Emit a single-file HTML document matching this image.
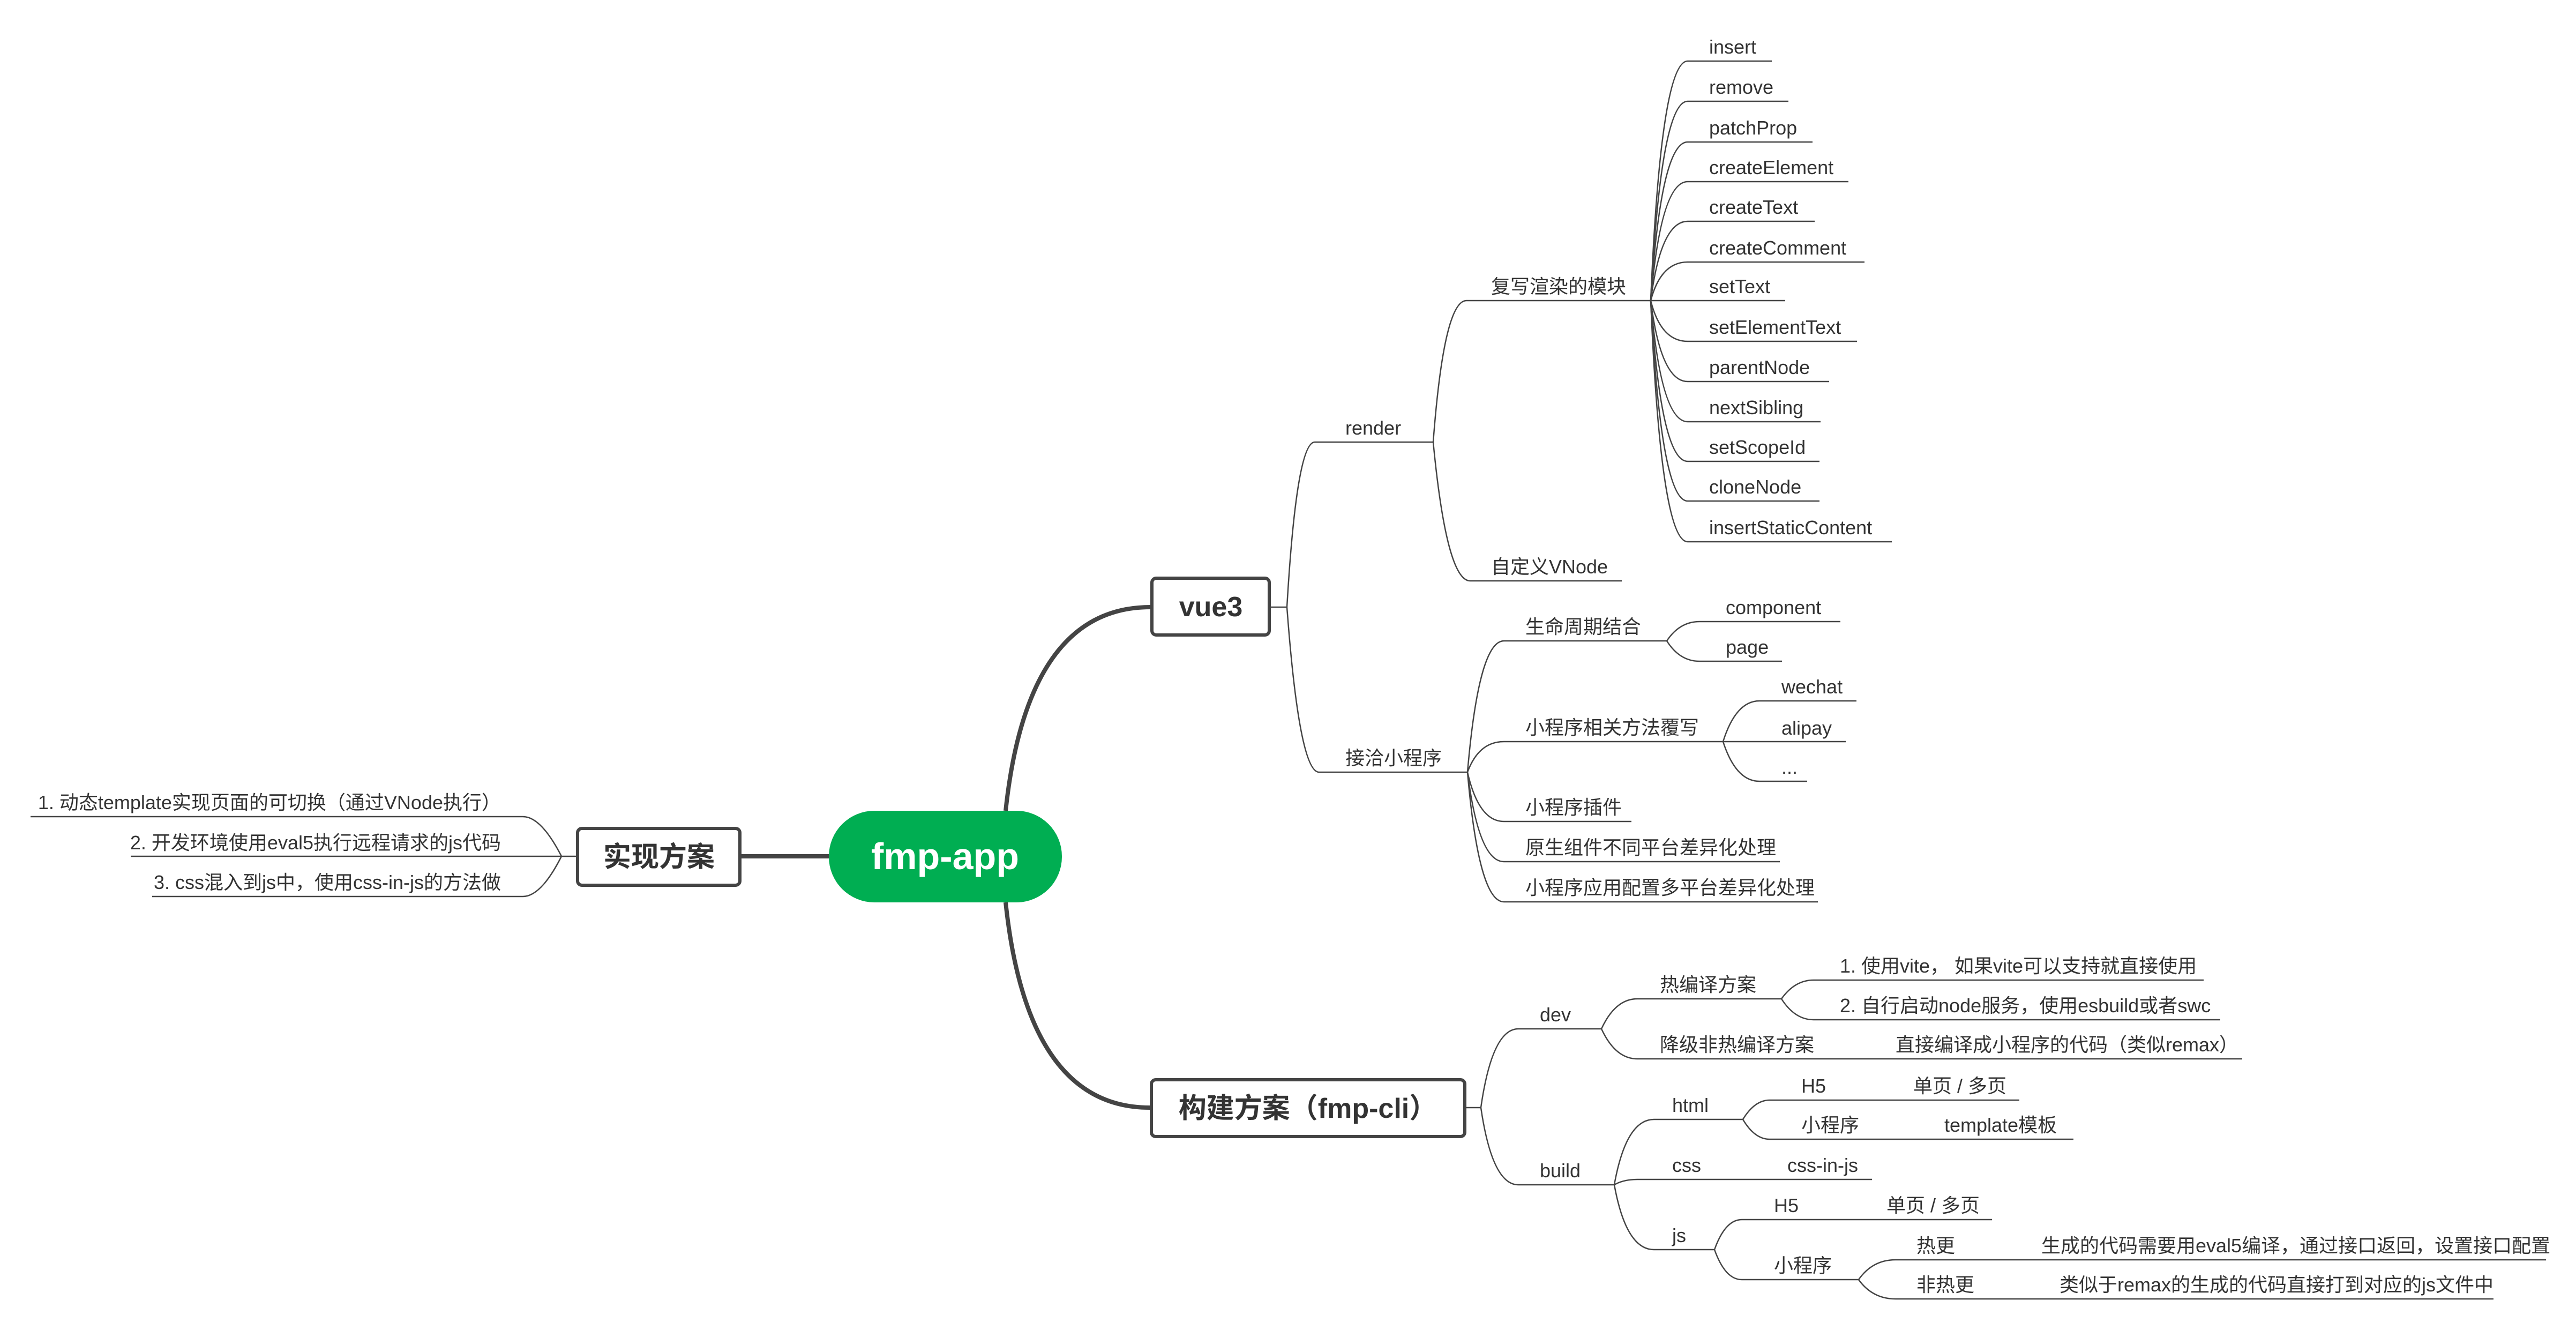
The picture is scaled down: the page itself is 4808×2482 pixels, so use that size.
<!DOCTYPE html>
<html><head><meta charset="utf-8"><style>
html,body{margin:0;padding:0;background:#fff;}
svg{display:block}
text{font-family:"Liberation Sans","Noto Sans CJK SC",sans-serif;fill:#333;font-size:36px}
.b{font-weight:bold;font-size:52px;fill:#333}
</style></head><body>
<svg width="4808" height="2482" viewBox="0 0 4808 2482" xmlns="http://www.w3.org/2000/svg">
<rect width="4808" height="2482" fill="#fff"/>
<!-- main thick connectors -->
<g fill="none" stroke="#444" stroke-width="8">
<path d="M1877 1513 C1905 1250 2000 1133 2147 1133"/>
<path d="M1877 1684 C1905 1950 2000 2067 2146 2067"/>
<path d="M1384 1598 L1547 1598"/>
</g>
<!-- thin connectors -->
<g fill="none" stroke="#444" stroke-width="2.5">
<!-- left -->
<path d="M1075 1598 L1048 1598"/>
<path d="M1048 1598 Q1010 1524 976 1524 L57 1524"/>
<path d="M1048 1598 L244 1598"/>
<path d="M1048 1598 Q1010 1673 976 1673 L284 1673"/>
<!-- vue3 -->
<path d="M2372 1133 L2402 1133"/>
<path d="M2402 1133 Q2420 825 2454 825 L2675 825"/>
<path d="M2402 1133 Q2425 1441 2462 1441 L2739 1441"/>
<path d="M2675 825 Q2695 561 2737 561 L3081 561"/>
<path d="M2675 825 Q2700 1084 2744 1084 L3027 1084"/>
<path d="M3081 561 Q3100 114 3150 114 L3307 114"/>
<path d="M3081 561 Q3100 189 3150 189 L3338 189"/>
<path d="M3081 561 Q3100 265 3150 265 L3383 265"/>
<path d="M3081 561 Q3100 339 3150 339 L3450 339"/>
<path d="M3081 561 Q3100 413 3150 413 L3387 413"/>
<path d="M3081 561 Q3100 489 3150 489 L3480 489"/>
<path d="M3081 561 L3332 561"/>
<path d="M3081 561 Q3100 637 3150 637 L3466 637"/>
<path d="M3081 561 Q3100 712 3150 712 L3414 712"/>
<path d="M3081 561 Q3100 787 3150 787 L3398 787"/>
<path d="M3081 561 Q3100 861 3150 861 L3396 861"/>
<path d="M3081 561 Q3100 935 3150 935 L3396 935"/>
<path d="M3081 561 Q3100 1011 3150 1011 L3531 1011"/>
<path d="M2739 1441 Q2760 1196 2807 1196 L3111 1196"/>
<path d="M2739 1441 Q2760 1384 2807 1384 L3216 1384"/>
<path d="M2739 1441 Q2760 1533 2807 1533 L3045 1533"/>
<path d="M2739 1441 Q2760 1608 2807 1608 L3322 1608"/>
<path d="M2739 1441 Q2760 1683 2807 1683 L3393 1683"/>
<path d="M3111 1196 Q3135 1160 3172 1160 L3435 1160"/>
<path d="M3111 1196 Q3135 1234 3172 1234 L3326 1234"/>
<path d="M3216 1384 Q3240 1308 3284 1308 L3465 1308"/>
<path d="M3216 1384 L3445 1384"/>
<path d="M3216 1384 Q3240 1458 3284 1458 L3373 1458"/>
<!-- build -->
<path d="M2737 2067 L2764 2067"/>
<path d="M2764 2067 Q2785 1920 2834 1920 L2989 1920"/>
<path d="M2764 2067 Q2785 2211 2834 2211 L3013 2211"/>
<path d="M2989 1920 Q3015 1864 3056 1864 L3325 1864"/>
<path d="M2989 1920 Q3015 1976 3056 1976 L4185 1976"/>
<path d="M3325 1864 Q3350 1829 3385 1829 L4113 1829"/>
<path d="M3325 1864 Q3350 1903 3385 1903 L4144 1903"/>
<path d="M3013 2211 Q3035 2089 3087 2089 L3253 2089"/>
<path d="M3013 2211 Q3030 2201 3056 2201 L3494 2201"/>
<path d="M3013 2211 Q3035 2332 3087 2332 L3200 2332"/>
<path d="M3253 2089 Q3275 2053 3303 2053 L3769 2053"/>
<path d="M3253 2089 Q3275 2126 3303 2126 L3870 2126"/>
<path d="M3200 2332 Q3220 2276 3251 2276 L3718 2276"/>
<path d="M3200 2332 Q3220 2388 3251 2388 L3469 2388"/>
<path d="M3469 2388 Q3495 2351 3538 2351 L4752 2351"/>
<path d="M3469 2388 Q3495 2424 3538 2424 L4654 2424"/>
</g>
<!-- boxes -->
<rect x="1547" y="1513" width="435" height="171" rx="85" fill="#00AE52"/>
<text x="1764" y="1622" text-anchor="middle" style="font-weight:bold;font-size:70px;fill:#fff">fmp-app</text>
<rect x="2150" y="1079" width="219" height="106" rx="8" fill="#fff" stroke="#444" stroke-width="6"/>
<text class="b" x="2260" y="1150" text-anchor="middle">vue3</text>
<rect x="2149" y="2015" width="585" height="106" rx="8" fill="#fff" stroke="#444" stroke-width="6"/>
<text class="b" x="2441" y="2086" text-anchor="middle">构建方案（fmp-cli）</text>
<rect x="1078" y="1546" width="303" height="106" rx="8" fill="#fff" stroke="#444" stroke-width="6"/>
<text class="b" x="1230" y="1617" text-anchor="middle">实现方案</text>
<!-- left labels -->
<text x="935" y="1510" text-anchor="end">1. 动态template实现页面的可切换（通过VNode执行）</text>
<text x="935" y="1585" text-anchor="end">2. 开发环境使用eval5执行远程请求的js代码</text>
<text x="935" y="1659" text-anchor="end">3. css混入到js中，使用css-in-js的方法做</text>
<!-- vue3 labels -->
<text x="2511" y="811">render</text>
<text x="2783" y="547">复写渲染的模块</text>
<text x="2783" y="1070">自定义VNode</text>
<text x="3190" y="100">insert</text>
<text x="3190" y="175">remove</text>
<text x="3190" y="251">patchProp</text>
<text x="3190" y="325">createElement</text>
<text x="3190" y="399">createText</text>
<text x="3190" y="475">createComment</text>
<text x="3190" y="547">setText</text>
<text x="3190" y="623">setElementText</text>
<text x="3190" y="698">parentNode</text>
<text x="3190" y="773">nextSibling</text>
<text x="3190" y="847">setScopeId</text>
<text x="3190" y="921">cloneNode</text>
<text x="3190" y="997">insertStaticContent</text>
<text x="2511" y="1427">接洽小程序</text>
<text x="2847" y="1182">生命周期结合</text>
<text x="2847" y="1370">小程序相关方法覆写</text>
<text x="2847" y="1519">小程序插件</text>
<text x="2847" y="1594">原生组件不同平台差异化处理</text>
<text x="2847" y="1669">小程序应用配置多平台差异化处理</text>
<text x="3221" y="1146">component</text>
<text x="3221" y="1220">page</text>
<text x="3325" y="1294">wechat</text>
<text x="3325" y="1371">alipay</text>
<text x="3325" y="1444">...</text>
<!-- build labels -->
<text x="2874" y="1906">dev</text>
<text x="2874" y="2197">build</text>
<text x="3098" y="1850">热编译方案</text>
<text x="3098" y="1962">降级非热编译方案</text>
<text x="3538" y="1962">直接编译成小程序的代码（类似remax）</text>
<text x="3434" y="1815">1. 使用vite， 如果vite可以支持就直接使用</text>
<text x="3434" y="1889">2. 自行启动node服务，使用esbuild或者swc</text>
<text x="3121" y="2075">html</text>
<text x="3121" y="2187">css</text>
<text x="3336" y="2187">css-in-js</text>
<text x="3121" y="2318">js</text>
<text x="3362" y="2039">H5</text>
<text x="3571" y="2039">单页 / 多页</text>
<text x="3362" y="2112">小程序</text>
<text x="3629" y="2112">template模板</text>
<text x="3311" y="2262">H5</text>
<text x="3521" y="2262">单页 / 多页</text>
<text x="3311" y="2374">小程序</text>
<text x="3577" y="2337">热更</text>
<text x="3810" y="2337">生成的代码需要用eval5编译，通过接口返回，设置接口配置</text>
<text x="3577" y="2410">非热更</text>
<text x="3844" y="2410">类似于remax的生成的代码直接打到对应的js文件中</text>
</svg>
</body></html>
